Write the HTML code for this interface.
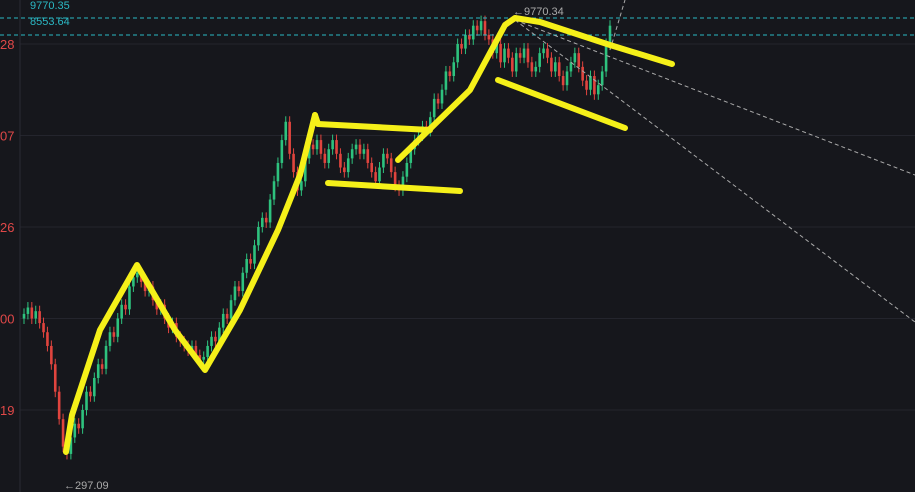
<!DOCTYPE html>
<html><head><meta charset="utf-8"><style>
body{margin:0;background:#16171c;width:915px;height:492px;overflow:hidden;font-family:"Liberation Sans",sans-serif}
svg{display:block}
</style></head><body>
<svg id="chart" width="915" height="492">
<rect width="915" height="492" fill="#16171c"/>
<g id="grid"></g>
<line x1="20" y1="0" x2="20" y2="492" stroke="#2a2b33"/>
<g id="candles"></g>
<line x1="0" y1="18" x2="915" y2="18" stroke="#2bb8c4" stroke-dasharray="4,3"/>
<line x1="0" y1="35" x2="915" y2="35" stroke="#2bb8c4" stroke-dasharray="4,3"/>
<text x="30" y="9" fill="#2bb8c4" font-size="11">9770.35</text>
<text x="30" y="25" fill="#2bb8c4" font-size="11">8553.64</text>
<text x="513" y="15" fill="#aaa" font-size="11">←9770.34</text>
<text x="64" y="489" fill="#aaa" font-size="11">←297.09</text>
<g stroke="#aaa" stroke-dasharray="4,3" fill="none">
<line x1="515" y1="20" x2="915" y2="322"/>
<line x1="515" y1="20" x2="915" y2="175"/>
<line x1="610" y1="50" x2="625" y2="0"/>
</g>
<g stroke="#f5f019" stroke-width="6" fill="none" stroke-linecap="round" stroke-linejoin="round">
<polyline points="66,452 72,415 100,330 137,265 175,330 205,370 240,310 278,230 300,175 315,115"/>
<polyline points="315,115 318,124 430,130"/>
<line x1="328" y1="183" x2="460" y2="191"/>
<polyline points="398,160 470,90 505,25 515,18 540,22 610,45 672,64"/>
<line x1="498" y1="80" x2="625" y2="128"/>
</g>
<g id="ticks"></g>
</svg>
<script>
const tickValues=[100,200,300,400,500];
const tickLabels=["19","00","26","07","28"];
const closes=[205,212,200,208,195,185,170,150,120,90,60,52,
70,85,80,100,120,115,135,150,145,170,185,180,200,215,210,235,245,250,
240,230,235,220,210,215,200,190,195,180,175,170,165,170,160,155,158,
170,180,175,190,205,200,220,235,230,250,265,260,280,300,310,305,330,350,370,395,415,380,
360,340,350,375,390,385,395,380,370,385,395,380,365,360,375,385,390,380,385,370,360,350,365,380,375,360,345,340,355,370,385,395,400,
410,405,420,440,435,450,470,465,480,500,495,510,505,520,515,525,510,505,490,500,480,495,485,
470,490,485,495,480,470,475,490,495,485,470,480,465,455,470,480,490,475,460,450,465,445,455,470,
500,520];
const NS="http://www.w3.org/2000/svg";
const y=v=>410-(v-100)*0.915;
const x=i=>24+i*(586/(closes.length-1));
const grid=document.getElementById('grid'),ticks=document.getElementById('ticks'),cg=document.getElementById('candles');
tickValues.forEach((v,i)=>{
 const l=document.createElementNS(NS,'line');
 
 
 l.setAttribute('x1',20);l.setAttribute('x2',915);l.setAttribute('y1',y(v));l.setAttribute('y2',y(v));l.setAttribute('stroke','#24252d');
 grid.appendChild(l);
 const t=document.createElementNS(NS,'text');
 
 
 t.setAttribute('x',0);t.setAttribute('y',y(v)+5);t.setAttribute('fill','#e04848');t.setAttribute('font-size','13');
 t.textContent=tickLabels[i];ticks.appendChild(t);
});
closes.forEach((c,i)=>{
 const o=i?closes[i-1]:c-5;
 const up=c>=o,col=up?'#2ec27e':'#e0443e';
 const hi=Math.max(o,c)+6,lo=Math.min(o,c)-6;
 const g=document.createElementNS(NS,'g');
 
 
 const w=document.createElementNS(NS,'line');
 w.setAttribute('x1',x(i));w.setAttribute('x2',x(i));w.setAttribute('y1',y(hi));w.setAttribute('y2',y(lo));w.setAttribute('stroke',col);
 g.appendChild(w);
 const r=document.createElementNS(NS,'rect');
 r.setAttribute('x',x(i)-1.3);r.setAttribute('width',2.6);
 r.setAttribute('y',y(Math.max(o,c)));r.setAttribute('height',Math.max(1,Math.abs(y(o)-y(c))));r.setAttribute('fill',col);
 g.appendChild(r);cg.appendChild(g);
});
</script>
</body></html>
